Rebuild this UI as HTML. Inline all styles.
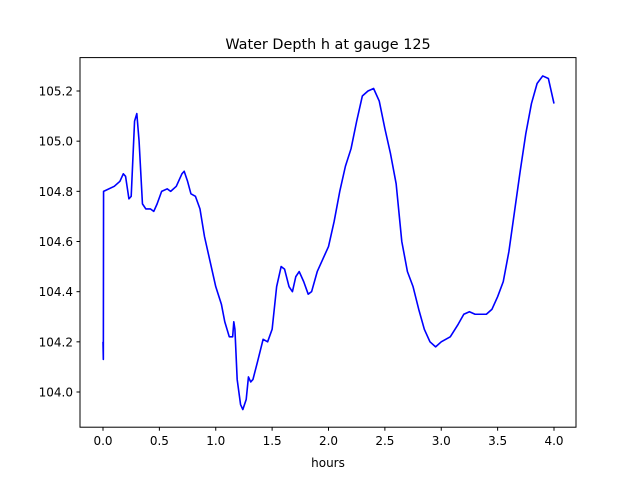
<!DOCTYPE html>
<html><head><meta charset="utf-8"><style>
html,body{margin:0;padding:0;background:#fff;}
svg text{font-family:"DejaVu Sans","Liberation Sans",sans-serif;}
</style></head><body>
<svg id="chart" width="640" height="480" xmlns="http://www.w3.org/2000/svg">
<rect width="640" height="480" fill="#fff"/>
<text x="328" y="49" font-size="14.4" text-anchor="middle">Water Depth h at gauge 125</text>
<text x="328" y="467" font-size="12" text-anchor="middle">hours</text>
<g id="ticks"></g>
<path id="series" fill="none" stroke="#0000ff" stroke-width="1.6" stroke-linejoin="round"/>
<rect x="80" y="57.6" width="496" height="369.6" fill="none" stroke="#000" stroke-width="1"/>
</svg>
<script>
const times=[0,0.003,0.005,0.1,0.15,0.18,0.2,0.23,0.25,0.28,0.3,0.32,0.35,0.38,0.42,0.45,0.48,0.52,0.57,0.6,0.65,0.7,0.72,0.75,0.78,0.82,0.86,0.9,0.95,1.0,1.05,1.08,1.12,1.15,1.16,1.17,1.19,1.22,1.24,1.27,1.29,1.31,1.33,1.37,1.42,1.46,1.5,1.54,1.58,1.61,1.65,1.68,1.71,1.74,1.78,1.82,1.85,1.9,1.95,2.0,2.05,2.1,2.15,2.2,2.25,2.3,2.35,2.4,2.45,2.5,2.55,2.6,2.65,2.7,2.75,2.8,2.85,2.9,2.95,3.0,3.08,3.15,3.2,3.25,3.3,3.35,3.4,3.45,3.5,3.55,3.6,3.65,3.7,3.75,3.8,3.85,3.9,3.95,4.0];
const depths=[104.2,104.13,104.8,104.82,104.84,104.87,104.86,104.77,104.78,105.08,105.11,105.0,104.75,104.73,104.73,104.72,104.75,104.8,104.81,104.8,104.82,104.87,104.88,104.84,104.79,104.78,104.73,104.62,104.52,104.42,104.35,104.28,104.22,104.22,104.28,104.25,104.05,103.95,103.93,103.97,104.06,104.04,104.05,104.12,104.21,104.2,104.25,104.42,104.5,104.49,104.42,104.4,104.46,104.48,104.44,104.39,104.4,104.48,104.53,104.58,104.68,104.8,104.9,104.97,105.08,105.18,105.2,105.21,105.16,105.05,104.95,104.83,104.6,104.48,104.42,104.33,104.25,104.2,104.18,104.2,104.22,104.27,104.31,104.32,104.31,104.31,104.31,104.33,104.38,104.44,104.56,104.72,104.88,105.03,105.15,105.23,105.26,105.25,105.15];
const xTicks=[0,0.5,1,1.5,2,2.5,3,3.5,4];
const yTicks=[104.0,104.2,104.4,104.6,104.8,105.0,105.2];
const NS="http://www.w3.org/2000/svg";
function X(t){return 103+(t-0)*112.75;}
function Y(v){return 392-(v-104.0)*250.83;}
let d="";
for(let i=0;i<times.length;i++){d+=(i?"L":"M")+X(times[i]).toFixed(2)+","+Y(depths[i]).toFixed(2);}
document.getElementById('series').setAttribute('d',d);
const g=document.getElementById('ticks');
xTicks.forEach(t=>{
  const l=document.createElementNS(NS,'line');
  
  
  l.setAttribute('x1',X(t));l.setAttribute('x2',X(t));l.setAttribute('y1',427.2);l.setAttribute('y2',430.7);l.setAttribute('stroke','#000');
  g.appendChild(l);
  const tx=document.createElementNS(NS,'text');
  
  
  tx.setAttribute('x',X(t));tx.setAttribute('y',445);tx.setAttribute('font-size','12');tx.setAttribute('text-anchor','middle');
  tx.textContent=t.toFixed(1);
  g.appendChild(tx);
});
yTicks.forEach(v=>{
  const l=document.createElementNS(NS,'line');
  
  
  l.setAttribute('x1',76.5);l.setAttribute('x2',80);l.setAttribute('y1',Y(v));l.setAttribute('y2',Y(v));l.setAttribute('stroke','#000');
  g.appendChild(l);
  const tx=document.createElementNS(NS,'text');
  
  
  tx.setAttribute('x',73);tx.setAttribute('y',Y(v)+4.5);tx.setAttribute('font-size','12');tx.setAttribute('text-anchor','end');
  tx.textContent=v.toFixed(1);
  g.appendChild(tx);
});
</script>
</body></html>
